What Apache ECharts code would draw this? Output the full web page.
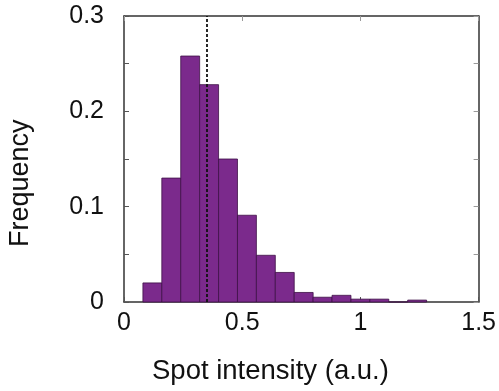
<!DOCTYPE html>
<html><head><meta charset="utf-8">
<script src="https://cdn.jsdelivr.net/npm/echarts@6/dist/echarts.min.js"></script>
<style>html,body{margin:0;padding:0;background:#fff}#c{width:499px;height:391px}</style>
</head><body><div id="c"></div>
<script>
// Histogram data (bin edges in a.u., frequency per bin)
var binStarts = [0.08,0.16,0.24,0.32,0.40,0.48,0.56,0.64,0.72,0.80,0.88,0.96,1.04,1.12,1.20];
var binEnds   = [0.16,0.24,0.32,0.40,0.48,0.56,0.64,0.72,0.80,0.88,0.96,1.04,1.12,1.20,1.28];
var frequency = [0.020,0.130,0.258,0.228,0.150,0.091,0.049,0.031,0.010,0.005,0.007,0.003,0.003,0.000,0.002];
var meanIntensity = 0.35;
var xTicks = [0, 0.5, 1, 1.5];
var yTicks = [0, 0.1, 0.2, 0.3];
var xTitle = 'Spot intensity (a.u.)';
var yTitle = 'Frequency';

var FONT = 'Liberation Sans, Arial, sans-serif';
var data = binStarts.map(function(s,i){ return [s, binEnds[i], frequency[i]]; });
var axisLineStyle = {color:'#333', width:1.5};

var chart = echarts.init(document.getElementById('c'), null, {renderer:'canvas'});
chart.setOption({
  animation:false,
  backgroundColor:'#fff',
  grid:{left:124, right:13, top:16, bottom:89},
  xAxis:[{
    type:'value', min:xTicks[0], max:xTicks[xTicks.length-1], interval:0.5, position:'bottom',
    axisLine:{show:true, onZero:false, lineStyle:axisLineStyle}, axisTick:{show:true, inside:true, length:5, lineStyle:{color:'#555'}},
    splitLine:{show:false},
    axisLabel:{color:'#111', fontSize:25, fontFamily:FONT, margin:9,
      formatter:function(v){ return String(+v.toFixed(2)); }}
  },{
    type:'value', min:xTicks[0], max:xTicks[xTicks.length-1], interval:0.5, position:'top',
    axisLine:{show:true, onZero:false, lineStyle:axisLineStyle}, axisTick:{show:true, inside:true, length:5, lineStyle:{color:'#999'}},
    splitLine:{show:false}, axisLabel:{show:false}
  }],
  yAxis:[{
    type:'value', min:yTicks[0], max:yTicks[yTicks.length-1], interval:0.05, position:'left',
    axisLine:{show:true, onZero:false, lineStyle:axisLineStyle}, axisTick:{show:true, inside:true, length:5, lineStyle:{color:'#555'}},
    splitLine:{show:false},
    axisLabel:{color:'#111', fontSize:25, fontFamily:FONT, margin:20,
      formatter:function(v){ var k=Math.round(v*100); if(k%10!==0) return ''; return String(+(k/100).toFixed(1)); }}
  },{
    type:'value', min:yTicks[0], max:yTicks[yTicks.length-1], interval:0.05, position:'right',
    axisLine:{show:true, onZero:false, lineStyle:axisLineStyle}, axisTick:{show:true, inside:true, length:5, lineStyle:{color:'#999'}},
    splitLine:{show:false}, axisLabel:{show:false}
  }],
  series:[{
    type:'custom',
    xAxisIndex:0, yAxisIndex:0,
    encode:{x:[0,1], y:2},
    data:data,
    renderItem:function(params, api){
      var p0 = api.coord([api.value(0), 0]);
      var p1 = api.coord([api.value(1), api.value(2)]);
      return {type:'rect', shape:{x:p0[0], y:p1[1], width:p1[0]-p0[0], height:p0[1]-p1[1]},
        style:{fill:'#7b2a8c', stroke:'#3d1046', lineWidth:0.8}};
    },
    markLine:{
      silent:true, symbol:'none', label:{show:false},
      lineStyle:{color:'#111', type:[3,2], width:1.8},
      data:[{xAxis:meanIntensity}]
    },
    z:2
  }],
  graphic:[
    {type:'text', left:152, top:357, style:{text:xTitle, fill:'#111', fontSize:27.5, fontFamily:FONT}},
    {type:'text', x:7, y:247, rotation:Math.PI/2, style:{text:yTitle, fill:'#111', fontSize:27, fontFamily:FONT}}
  ]
});
</script></body></html>
